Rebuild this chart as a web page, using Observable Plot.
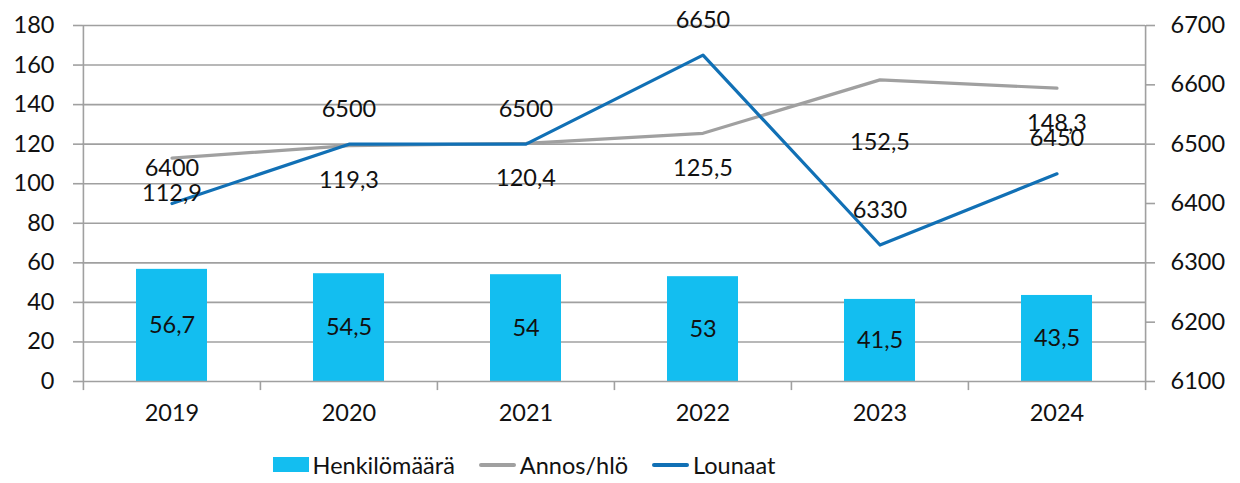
<!DOCTYPE html>
<html><head><meta charset="utf-8">
<script src="https://cdn.jsdelivr.net/npm/d3@7"></script>
<script src="https://cdn.jsdelivr.net/npm/@observablehq/plot@0.6"></script>
<style>
body{margin:0;background:#fff;font-family:Lato,"Noto Sans",sans-serif;}
#legend{display:flex;justify-content:center;align-items:center;height:43px;font-size:23.5px;color:#111;padding-top:6px;padding-right:192px;box-sizing:border-box;width:1240px;}
.item{display:flex;align-items:center;margin:0 12px;}
.sw{display:inline-block;margin-right:4px;}
</style></head>
<body><div id="chart"></div><div id="legend"></div>
<script>
const years = ["2019","2020","2021","2022","2023","2024"];
const henkilomaara = [56.7, 54.5, 54, 53, 41.5, 43.5];
const annos = [112.9, 119.3, 120.4, 125.5, 152.5, 148.3];
const lounaat = [6400, 6500, 6500, 6650, 6330, 6450];
const leftTicks = [0,20,40,60,80,100,120,140,160,180];
const rightTicks = [6100,6200,6300,6400,6500,6600,6700];

const W = 1240, H = 440;
const mL = 82, mR = 95, mT = 25, mB = 59;
const step = (W - mL - mR) / years.length;
const toLeft = v => (v - 6100) / 600 * 180;
const fmt = v => String(v).replace(".", ",");
const font = "Lato, 'Noto Sans', sans-serif";
const grid = "#a0a0a0";
const fs = 23.5;

const data = years.map((y,i)=>({year:y, h:henkilomaara[i], a:annos[i], l:lounaat[i], ly:toLeft(lounaat[i])}));

const chart = Plot.plot({
  width: W, height: H,
  marginLeft: mL, marginRight: mR, marginTop: mT, marginBottom: mB,
  style: {fontFamily: font, fontSize: fs + "px", color: "#111", background: "#fff"},
  x: {domain: years, paddingInner: 0.6, paddingOuter: 0.3, label: null},
  y: {domain: [0,180], label: null},
  marks: [
    Plot.ruleY(leftTicks.slice(1), {y: d=>d, stroke: grid, strokeWidth: 1.6}),
    Plot.barY(data, {x: "year", y: "h", fill: "#13BEF0"}),
    Plot.ruleY([0], {stroke: grid, strokeWidth: 1.6}),
    Plot.axisY({ticks: leftTicks, tickSize: 9, tickPadding: 19, stroke: grid, strokeWidth: 1.6, fill: "#111", fontSize: fs, label: null, tickFormat: d=>String(d)}),
    Plot.axisY({anchor: "right", ticks: rightTicks.map(toLeft), tickSize: 9, tickPadding: 16, stroke: grid, strokeWidth: 1.6, fill: "#111", fontSize: fs, label: null, tickFormat: d => String(Math.round(d/180*600 + 6100))}),
    Plot.ruleX(years, {x: d=>d, y1: 0, y2: -4.6, dx: -step/2, stroke: grid, strokeWidth: 1.6}),
    Plot.ruleX([years[years.length-1]], {x: d=>d, y1: 0, y2: -4.6, dx: step/2, stroke: grid, strokeWidth: 1.6}),
    Plot.ruleX([years[0]], {x: d=>d, y1: 0, y2: 180, dx: -step/2, stroke: grid, strokeWidth: 1.6}),
    Plot.ruleX([years[years.length-1]], {x: d=>d, y1: 0, y2: 180, dx: step/2, stroke: grid, strokeWidth: 1.6}),
    Plot.axisX({tickSize: 0, tickPadding: 23, fill: "#111", fontSize: fs, label: null}),
    Plot.lineY(data, {x: "year", y: "a", stroke: "#A0A0A0", strokeWidth: 3.2}),
    Plot.lineY(data, {x: "year", y: "ly", stroke: "#1170B5", strokeWidth: 3.2}),
    Plot.text(data, {x: "year", y: d => d.h/2, text: d => fmt(d.h), fill: "#111", fontSize: fs}),
    Plot.text(data.filter(d=>d.year!=="2023"), {x: "year", y: "a", text: d => fmt(d.a), dy: 35, fill: "#111", fontSize: fs}),
    Plot.text(data.filter(d=>d.year==="2023"), {x: "year", y: "a", text: d => fmt(d.a), dy: 63, fill: "#111", fontSize: fs}),
    Plot.text(data, {x: "year", y: "ly", text: d => String(d.l), dy: -35, fill: "#111", fontSize: fs})
  ]
});
document.getElementById("chart").append(chart);

const legendItems = [
  {name: "Henkilömäärä", type: "rect", color: "#13BEF0"},
  {name: "Annos/hlö", type: "line", color: "#A0A0A0"},
  {name: "Lounaat", type: "line", color: "#1170B5"}
];
const lg = document.getElementById("legend");
legendItems.forEach(it => {
  const d = document.createElement("div"); d.className = "item";
  const s = document.createElement("span"); s.className = "sw";
  if (it.type === "rect") { s.style.width = "36px"; s.style.height = "15px"; s.style.background = it.color; }
  else { s.style.width = "37px"; s.style.height = "4px"; s.style.background = it.color; s.style.borderRadius = "2px"; }
  d.append(s);
  const t = document.createElement("span"); t.textContent = it.name; d.append(t);
  lg.append(d);
});
</script></body></html>
